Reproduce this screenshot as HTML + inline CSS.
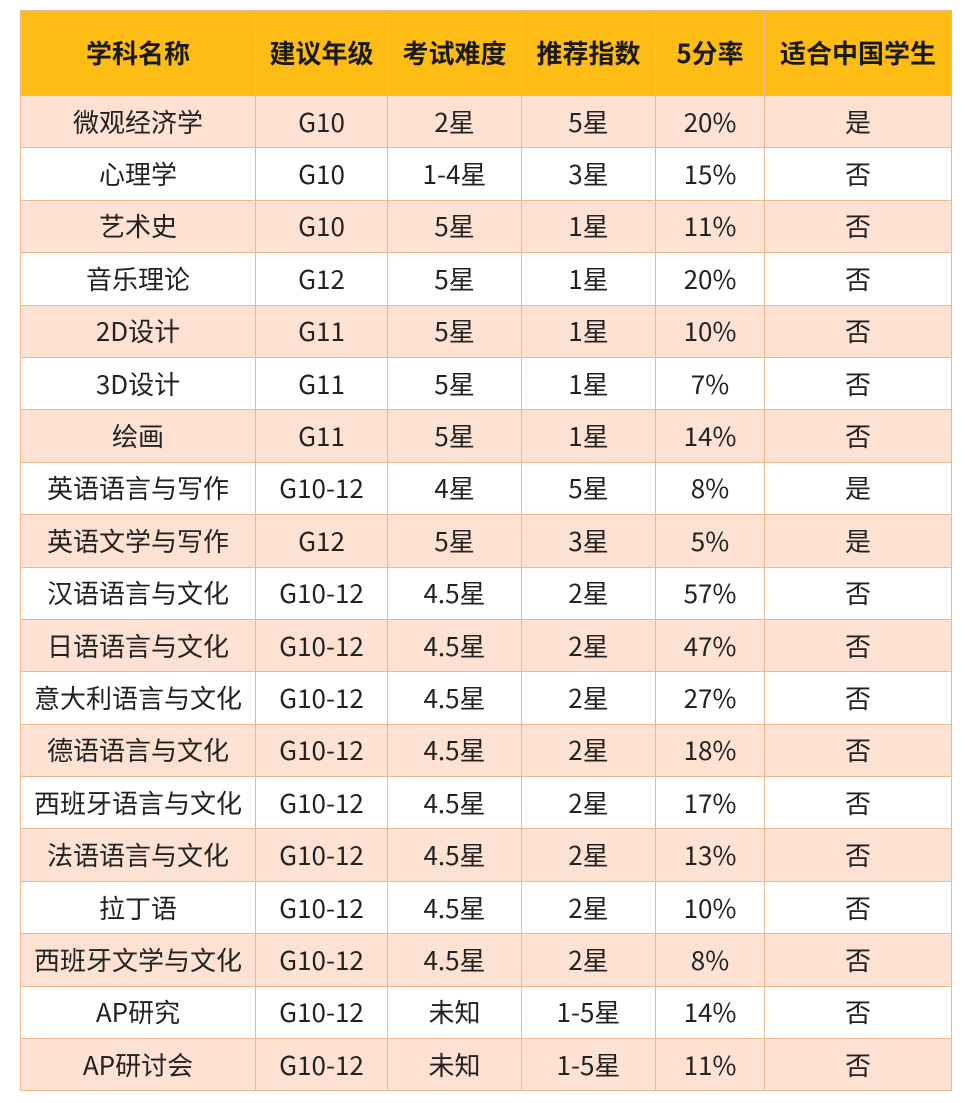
<!DOCTYPE html>
<html><head><meta charset="utf-8"><style>
body{margin:0;width:979px;height:1103px;background:#fff;overflow:hidden;font-family:"Noto Sans CJK SC","Liberation Sans",sans-serif}
table{position:absolute;left:20px;top:10px;border-collapse:collapse;table-layout:fixed;width:931px}
td,th{border:1.5px solid #e9b98f;text-align:center;padding:0;color:#222;font-size:26px;line-height:1;height:51.4px;white-space:nowrap;overflow:hidden}
th{background:#fdbd14;font-weight:bold;height:84px;font-size:26px;color:#1a1a1a}
tr.p td{background:#fde2d4}
</style></head><body>
<table>
<colgroup><col style="width:235px"><col style="width:132px"><col style="width:134px"><col style="width:134px"><col style="width:109px"><col style="width:187px"></colgroup>
<thead><tr><th>学科名称</th><th>建议年级</th><th>考试难度</th><th>推荐指数</th><th>5分率</th><th>适合中国学生</th></tr></thead>
<tbody id="tb"></tbody></table>
<script>
const subjects=["微观经济学","心理学","艺术史","音乐理论","2D设计","3D设计","绘画","英语语言与写作","英语文学与写作","汉语语言与文化","日语语言与文化","意大利语言与文化","德语语言与文化","西班牙语言与文化","法语语言与文化","拉丁语","西班牙文学与文化","AP研究","AP研讨会"];
const grades=["G10","G10","G10","G12","G11","G11","G11","G10-12","G12","G10-12","G10-12","G10-12","G10-12","G10-12","G10-12","G10-12","G10-12","G10-12","G10-12"];
const difficulty=["2星","1-4星","5星","5星","5星","5星","5星","4星","5星","4.5星","4.5星","4.5星","4.5星","4.5星","4.5星","4.5星","4.5星","未知","未知"];
const recommend=["5星","3星","1星","1星","1星","1星","1星","5星","3星","2星","2星","2星","2星","2星","2星","2星","2星","1-5星","1-5星"];
const fiveRate=["20%","15%","11%","20%","10%","7%","14%","8%","5%","57%","47%","27%","18%","17%","13%","10%","8%","14%","11%"];
const suitable=["是","否","否","否","否","否","否","是","是","否","否","否","否","否","否","否","否","否","否"];
const tb=document.getElementById('tb');
const cols=[subjects,grades,difficulty,recommend,fiveRate,suitable];
const names=['subject','grade','difficulty','recommend','five-rate','suitable'];
subjects.forEach((s,i)=>{
 const tr=document.createElement('tr');
 
 
 if(i%2===0)tr.className='p';
 cols.forEach((c,j)=>{
  const td=document.createElement('td');
  
  
  td.textContent=c[i];
  tr.appendChild(td);
 });
 tb.appendChild(tr);
});
</script>
</body></html>
